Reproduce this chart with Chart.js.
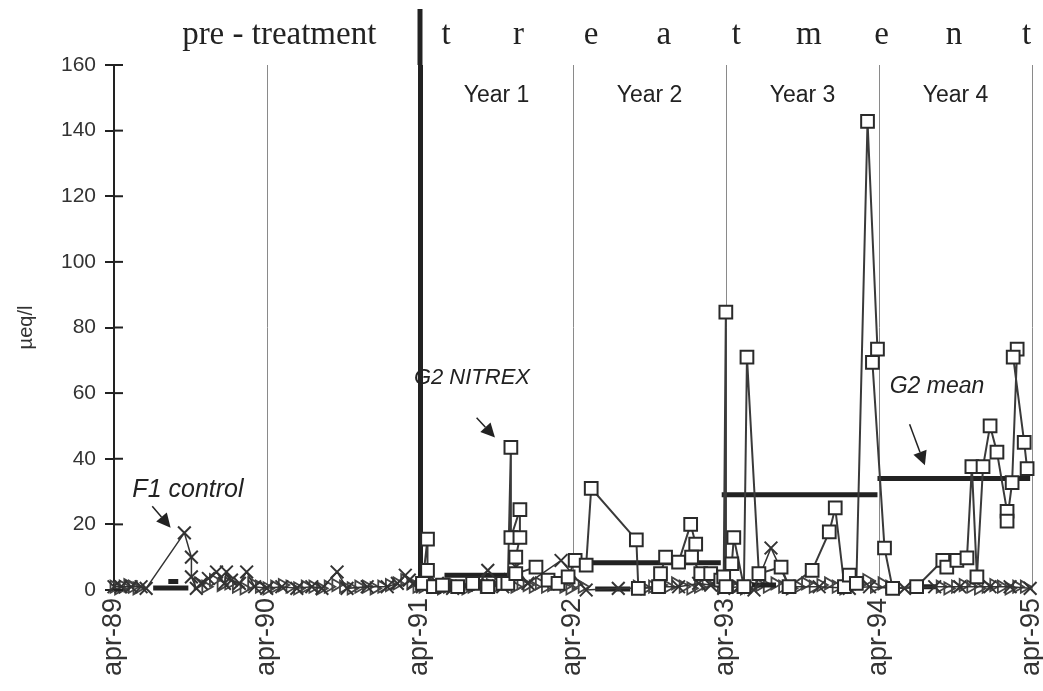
<!DOCTYPE html>
<html><head><meta charset="utf-8">
<script src="https://cdn.jsdelivr.net/npm/chart.js@4/dist/chart.umd.min.js"></script>
<style>html,body{margin:0;padding:0;background:#fff}#wrap{width:1043px;height:691px}</style>
</head><body><div id="wrap"><canvas id="c" width="1043" height="691"></canvas></div>
<script>
// ---- data (x = years since apr-89) ----
const xTickLabels = ['apr-89','apr-90','apr-91','apr-92','apr-93','apr-94','apr-95'];
const yearLabels = ['Year 1','Year 2','Year 3','Year 4'];
const headerPre = 'pre - treatment';
const headerTreat = ['t','r','e','a','t','m','e','n','t'];

const g2Time = [2.016,2.049,2.049,2.088,2.147,2.246,2.344,2.443,2.541,2.574,2.594,2.594,2.653,2.653,2.626,2.626,2.758,2.837,2.902,2.968,
  3.014,3.086,3.119,3.414,3.427,3.559,3.572,3.605,3.69,3.769,3.802,3.775,3.835,3.9,3.966,
  3.985,3.999,3.999,4.038,4.051,4.117,4.137,4.215,4.36,4.412,4.563,4.675,4.714,4.774,4.806,4.852,4.925,4.99,4.957,5.036,5.089,
  5.246,5.417,5.443,5.509,5.575,5.607,5.64,5.68,5.726,5.771,5.837,5.837,5.87,5.903,5.877,5.949,5.968];
const g2Value = [2,15.5,6,1,1.5,1,2,1,2,2,43.5,16,24.5,16,10,5,7,3,2,4,
  9,7.6,31,15.3,0.5,1,5,10,8.5,20,14,10,5,5,3,
  4,84.7,1,8,16,1,71,5,7,1,6,17.7,25,1,4.5,2,142.8,73.4,69.4,12.8,0.5,
  1,9,7,9,9.8,37.6,4,37.6,50,42,24,21,32.7,73.4,71,45,37];

const f1Time = [0.0,0.046,0.112,0.177,0.21,0.46,0.506,0.506,0.538,0.571,0.617,0.67,0.722,0.735,0.768,0.82,0.867,0.919,0.998,1.097,1.195,1.293,1.359,1.458,1.523,1.655,1.786,1.852,1.904,1.93,1.957,
  2.016,2.114,2.213,2.377,2.443,2.541,2.626,2.705,2.922,3.086,3.296,3.427,3.559,3.69,3.821,3.9,3.985,4.084,4.183,4.294,4.412,4.609,4.806,4.938,5.089,5.167,5.364,5.529,5.726,5.857,5.988];
const f1Value = [1,1,1,1,0.5,17.4,10,4,0.5,2,3.5,5.5,2,5.5,3,2,5.5,1,0.5,1,0.5,1,0.5,5.5,0.5,1,1,2,4.5,3,2,
  1,2,0.5,1.5,6,1,7,2,9,0,0.5,0.5,1,1,2,1.5,0.5,1,0,12.8,1,1,0.5,1,0.5,0.5,1,1,1,1,0.5];

const lowTime = [0.0,0.03,0.06,0.09,0.12,0.15,0.55,0.6,0.65,0.7,0.75,0.8,0.85,0.9,0.95,1.0,1.05,1.1,1.15,1.2,1.25,1.3,1.35,1.4,1.45,1.5,1.55,1.6,1.65,1.7,1.75,1.8,1.85,1.9,1.94,1.98,
  2.02,2.06,2.1,2.14,2.18,2.22,2.26,2.3,2.34,2.38,2.42,2.46,2.5,2.54,2.58,2.62,2.66,2.7,2.74,2.78,2.82,2.86,2.9,2.94,2.98,3.02,3.06,
  3.42,3.47,3.52,3.57,3.62,3.67,3.72,3.77,3.82,3.87,3.92,3.97,4.02,4.07,4.12,4.17,4.22,4.27,4.32,4.37,4.42,4.47,4.52,4.57,4.62,4.67,4.72,4.77,4.82,4.87,4.92,4.97,5.02,5.07,
  5.4,5.45,5.5,5.55,5.6,5.65,5.7,5.75,5.8,5.85,5.9,5.95];
const lowValue = [1,0.5,1,1.5,1,0.5,2,1,3,1.5,2,1,0.5,2,1,0.5,1,1.5,1,0.5,1,1,0.5,1,1.5,1,0.5,1,1,0.5,1,1.5,2,3,2,1,
  1,2,1,0.5,1,1.5,1,0.5,1,2,1,1.5,1,2,3,1,2,1.5,1,2,1,1.5,2,1,0.5,2,1,
  1,0.5,1,1.5,1,2,1,0.5,1,2,3,1,2,1,0.5,1,1.5,1,2,1,0.5,1,2,1,1.5,2,1,0.5,1,2,3,1,2,1,
  1,0.5,1,1.5,1,0.5,1,1.5,1,0.5,1,1];

const g2MeanStart = [2.16,3.001,3.972,4.99];
const g2MeanEnd   = [2.58,3.966,4.99,5.988];
const g2MeanValue = [4.5,8.3,29,34];

const f1MeanStart = [0.256,0.355,3.145,4.169,5.246];
const f1MeanEnd   = [0.486,0.42,3.375,4.327,5.378];
const f1MeanValue = [0.6,2.6,0.3,1.5,1.0];

// ---- build ----
const FONT = '"Liberation Sans", Arial, Helvetica, sans-serif';
const SERIF = '"Liberation Serif", "Times New Roman", serif';
const pts = (t, v) => t.map((x, i) => ({x, y: v[i]}));
function segs(s, e, v) {
  const out = [];
  s.forEach((a, i) => { out.push({x: a, y: v[i]}, {x: e[i], y: v[i]}, {x: e[i], y: null}); });
  return out;
}

function arrow(ctx, x1, y1, x2, y2) {
  const ang = Math.atan2(y2 - y1, x2 - x1);
  const L = 14, W = 7;
  const bx = x2 - L * Math.cos(ang), by = y2 - L * Math.sin(ang);
  ctx.beginPath(); ctx.moveTo(x1, y1); ctx.lineTo(bx, by); ctx.lineWidth = 1.5; ctx.strokeStyle = '#222'; ctx.stroke();
  ctx.beginPath();
  ctx.moveTo(x2, y2);
  ctx.lineTo(bx + W * Math.sin(ang), by - W * Math.cos(ang));
  ctx.lineTo(bx - W * Math.sin(ang), by + W * Math.cos(ang));
  ctx.closePath(); ctx.fillStyle = '#222'; ctx.fill();
}

const decor = {
  id: 'decor',
  afterDraw(chart) {
    const {ctx, scales: {x, y}, chartArea} = chart;
    ctx.save();
    // inner half of y ticks
    ctx.strokeStyle = '#222'; ctx.lineWidth = 2;
    for (let v = 0; v <= 160; v += 20) {
      const py = y.getPixelForValue(v);
      ctx.beginPath(); ctx.moveTo(chartArea.left, py); ctx.lineTo(chartArea.left + 9, py); ctx.stroke();
    }
    // thick treatment line extension above chart area
    const px91 = x.getPixelForValue(2);
    ctx.beginPath(); ctx.lineWidth = 5; ctx.strokeStyle = '#222';
    ctx.moveTo(px91, 9); ctx.lineTo(px91, chartArea.top); ctx.stroke();
    // header
    ctx.fillStyle = '#222';
    ctx.font = '33px ' + SERIF; ctx.textAlign = 'center'; ctx.textBaseline = 'middle';
    ctx.fillText(headerPre, x.getPixelForValue(1.08), 35);
    const a = x.getPixelForValue(2.17), b = x.getPixelForValue(5.965);
    headerTreat.forEach((ch, i) => ctx.fillText(ch, a + (b - a) * i / (headerTreat.length - 1), 35));
    ctx.font = '23px ' + FONT;
    yearLabels.forEach((lab, i) => ctx.fillText(lab, x.getPixelForValue(2.5 + i), 96));
    // annotations
    ctx.textAlign = 'left';
    ctx.font = 'italic 25px ' + FONT;
    ctx.fillText('F1 control', x.getPixelForValue(0.12), y.getPixelForValue(30.6));
    arrow(ctx, x.getPixelForValue(0.25), y.getPixelForValue(25.5), x.getPixelForValue(0.37), y.getPixelForValue(19));
    ctx.fillStyle = '#222';
    ctx.font = 'italic 22px ' + FONT;
    ctx.fillText('G2 NITREX', x.getPixelForValue(1.96), y.getPixelForValue(64.5));
    arrow(ctx, x.getPixelForValue(2.37), y.getPixelForValue(52.5), x.getPixelForValue(2.49), y.getPixelForValue(46.5));
    ctx.fillStyle = '#222';
    ctx.font = 'italic 23px ' + FONT;
    ctx.fillText('G2 mean', x.getPixelForValue(5.07), y.getPixelForValue(62));
    arrow(ctx, x.getPixelForValue(5.2), y.getPixelForValue(50.5), x.getPixelForValue(5.3), y.getPixelForValue(38));
    ctx.restore();
  }
};

new Chart(document.getElementById('c'), {
  type: 'scatter',
  data: {
    datasets: [
      { label: 'G2 NITREX', data: pts(g2Time, g2Value), showLine: true, tension: 0,
        borderColor: '#3a3a3a', borderWidth: 2, pointStyle: 'rect', pointRadius: 9,
        pointBackgroundColor: '#fff', pointBorderColor: '#2a2a2a', pointBorderWidth: 2, clip: false },
      { label: 'F1 control', data: pts(f1Time, f1Value), showLine: true, tension: 0,
        borderColor: '#333', borderWidth: 1.5, pointStyle: 'crossRot', pointRadius: 9,
        pointBorderColor: '#333', pointBorderWidth: 2, clip: false },
      { label: 'G2 mean', data: segs(g2MeanStart, g2MeanEnd, g2MeanValue), showLine: true, spanGaps: false,
        borderColor: '#222', borderWidth: 5, pointRadius: 0, clip: false },
      { label: 'F1 mean', data: segs(f1MeanStart, f1MeanEnd, f1MeanValue), showLine: true, spanGaps: false,
        borderColor: '#222', borderWidth: 5, pointRadius: 0, clip: false },
      { label: 'low', data: pts(lowTime, lowValue), showLine: false, pointStyle: 'triangle', rotation: 90,
        pointRadius: 7, pointBackgroundColor: 'rgba(255,255,255,0)', pointBorderColor: '#444', pointBorderWidth: 1.8, clip: false }
    ]
  },
  options: {
    responsive: false, animation: false, devicePixelRatio: 1,
    layout: { padding: { left: 0, top: 65, right: 11, bottom: 0 } },
    plugins: { legend: { display: false }, tooltip: { enabled: false } },
    scales: {
      x: { type: 'linear', min: 0, max: 6,
        afterFit: s => { s.height = 101; s.paddingLeft = 0; s.paddingRight = 0; },
        ticks: { stepSize: 1, autoSkip: false, minRotation: 90, maxRotation: 90, padding: 8, color: '#333',
          font: { size: 27, family: FONT }, callback: v => xTickLabels[Math.round(v)] },
        grid: { drawTicks: false,
          color: c => (c.tick && c.tick.value === 0) ? 'rgba(0,0,0,0)' : (c.tick && c.tick.value === 2 ? '#222' : '#8a8a8a'),
          lineWidth: c => (c.tick && c.tick.value === 2) ? 5 : 1 },
        border: { display: false } },
      y: { min: 0, max: 160,
        afterFit: s => { s.width = 114; s.paddingTop = 0; s.paddingBottom = 0; },
        ticks: { stepSize: 20, color: '#333', padding: 9, font: { size: 21, family: FONT } },
        grid: { drawOnChartArea: false, tickLength: 9, color: '#222', lineWidth: 2 },
        border: { color: '#222', width: 2 },
        title: { display: true, text: 'µeq/l', color: '#333', font: { size: 20, family: FONT }, padding: { top: 14, bottom: 0 } } }
    }
  },
  plugins: [decor]
});
</script></body></html>
